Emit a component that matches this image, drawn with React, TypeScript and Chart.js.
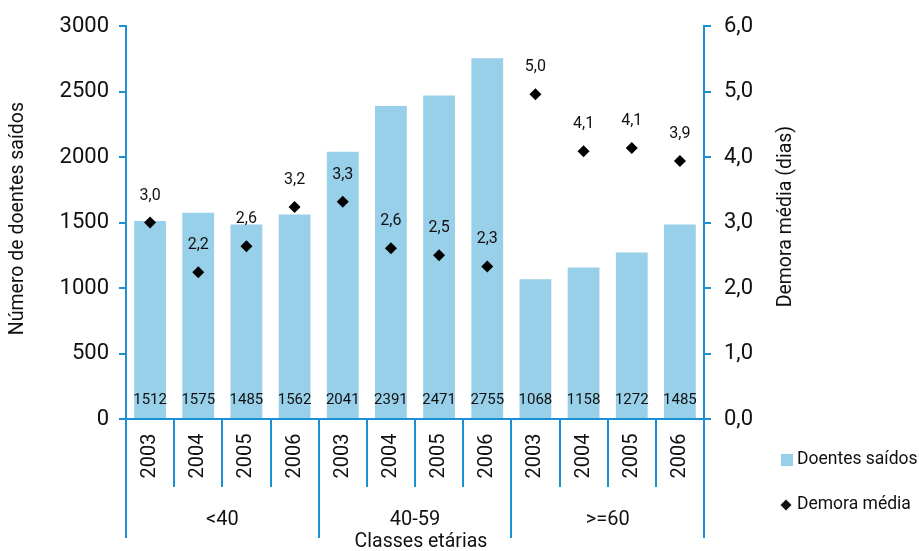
import React, { useEffect, useRef } from "react";
import { Chart, registerables } from "chart.js";

Chart.register(...registerables);

const years = ["2003", "2004", "2005", "2006", "2003", "2004", "2005", "2006", "2003", "2004", "2005", "2006"];
const groups = ["<40", "40-59", ">=60"];
const doentesSaidos = [1512, 1575, 1485, 1562, 2041, 2391, 2471, 2755, 1068, 1158, 1272, 1485];
const demoraMedia = [3.0, 2.24, 2.64, 3.24, 3.32, 2.61, 2.5, 2.33, 4.96, 4.09, 4.14, 3.94];
const leftTicks = [0, 500, 1000, 1500, 2000, 2500, 3000];
const rightTicks = [0, 1, 2, 3, 4, 5, 6];

const BLUE = "#1b90d2";
const BAR = "#98cfe9";
const TEXT = "#111111";
const FONT = "Roboto";

const overlay = {
  id: "overlay",
  afterDraw(chart: any) {
    const ctx = chart.ctx;
    const area = chart.chartArea;
    const x = chart.scales.x;
    const yR = chart.scales.y1;
    const n = years.length;
    const w = (area.right - area.left) / n;
    const bottom = area.bottom;
    ctx.save();
    // x axis line and separators
    ctx.strokeStyle = BLUE;
    ctx.lineWidth = 2;
    ctx.beginPath();
    ctx.moveTo(area.left, bottom);
    ctx.lineTo(area.right, bottom);
    for (let i = 0; i <= n; i++) {
      const px = Math.round(area.left + i * w);
      const len = i % 4 === 0 ? 119 : 68;
      ctx.moveTo(px, bottom);
      ctx.lineTo(px, bottom + len);
    }
    ctx.stroke();

    // year labels
    ctx.fillStyle = TEXT;
    ctx.font = `20px ${FONT}`;
    ctx.textAlign = "center";
    ctx.textBaseline = "middle";
    years.forEach((yr, i) => {
      const cx = x.getPixelForValue(i);
      ctx.save();
      ctx.translate(cx, bottom + 37);
      ctx.rotate(-Math.PI / 2);
      ctx.fillText(yr, 0, 0);
      ctx.restore();
    });
    // group labels
    groups.forEach((g, gi) => {
      const cx = (x.getPixelForValue(gi * 4) + x.getPixelForValue(gi * 4 + 3)) / 2;
      ctx.fillText(g, cx, bottom + 101);
    });
    ctx.font = `19.5px ${FONT}`;
    ctx.fillText("Classes etárias", (area.left + area.right) / 2 + 6, bottom + 123);

    // axis titles
    const midY = (area.top + area.bottom) / 2;
    ctx.font = `19.5px ${FONT}`;
    ctx.save();
    ctx.translate(18, midY - 4);
    ctx.rotate(-Math.PI / 2);
    ctx.fillText("Número de doentes saídos", 0, 0);
    ctx.restore();
    ctx.save();
    ctx.translate(786, midY - 6);
    ctx.rotate(-Math.PI / 2);
    ctx.fillText("Demora média (dias)", 0, 0);
    ctx.restore();

    // bar value labels
    ctx.font = `15px ${FONT}`;
    doentesSaidos.forEach((v, i) => {
      ctx.fillText(String(v), x.getPixelForValue(i), bottom - 19);
    });
    // point labels
    ctx.font = `16px ${FONT}`;
    demoraMedia.forEach((v, i) => {
      const py = yR.getPixelForValue(v);
      ctx.fillText(v.toFixed(1).replace(".", ","), x.getPixelForValue(i), py - 27);
    });

    // legend
    ctx.textAlign = "left";
    ctx.font = `17.5px ${FONT}`;
    ctx.fillStyle = BAR;
    ctx.fillRect(781, 454, 12, 12);
    ctx.fillStyle = TEXT;
    ctx.fillText("Doentes saídos", 797, 460);
    ctx.beginPath();
    ctx.moveTo(786, 499.5);
    ctx.lineTo(791.5, 505);
    ctx.lineTo(786, 510.5);
    ctx.lineTo(780.5, 505);
    ctx.closePath();
    ctx.fill();
    ctx.fillText("Demora média", 797, 505);
    ctx.restore();
  },
};

export default function App() {
  const ref = useRef<HTMLCanvasElement>(null);
  useEffect(() => {
    document.body.style.margin = "0";
    const chart = new Chart(ref.current as HTMLCanvasElement, {
      type: "bar",
      data: {
        labels: years.map((y, i) => `${groups[Math.floor(i / 4)]} ${y}`),
        datasets: [
          {
            type: "line",
            label: "Demora média",
            data: demoraMedia,
            yAxisID: "y1",
            showLine: false,
            pointStyle: "rectRot",
            pointRadius: 6,
            pointBackgroundColor: "#000",
            pointBorderColor: "#000",
            pointBorderWidth: 0,
            order: 0,
          } as any,
          {
            type: "bar",
            label: "Doentes saídos",
            data: doentesSaidos,
            yAxisID: "y",
            backgroundColor: BAR,
            borderWidth: 0,
            barPercentage: 0.66,
            categoryPercentage: 1,
            order: 1,
          },
        ],
      },
      options: {
        animation: false,
        responsive: false,
        layout: { padding: { top: 25, bottom: 132, left: 0, right: 0 } },
        plugins: { legend: { display: false }, tooltip: { enabled: false } },
        scales: {
          x: { display: false, offset: true },
          y: {
            position: "left",
            min: 0,
            max: 3000,
            afterFit: (s: any) => {
              s.width = 126;
            },
            afterBuildTicks: (s: any) => {
              s.ticks = leftTicks.map((v) => ({ value: v }));
            },
            border: { color: BLUE, width: 2 },
            grid: { drawOnChartArea: false, color: BLUE, tickLength: 7, lineWidth: 2 },
            ticks: {
              color: TEXT,
              font: { family: FONT, size: 22 },
              padding: 10,
              callback: (v: any) => String(v),
            },
          },
          y1: {
            position: "right",
            min: 0,
            max: 6,
            afterFit: (s: any) => {
              s.width = 919 - 704;
            },
            afterBuildTicks: (s: any) => {
              s.ticks = rightTicks.map((v) => ({ value: v }));
            },
            border: { color: BLUE, width: 2 },
            grid: { drawOnChartArea: false, color: BLUE, tickLength: 7, lineWidth: 2 },
            ticks: {
              color: TEXT,
              font: { family: FONT, size: 22 },
              padding: 13,
              callback: (v: any) => Number(v).toFixed(1).replace(".", ","),
            },
          },
        },
      },
      plugins: [overlay],
    });
    return () => chart.destroy();
  }, []);
  return <canvas ref={ref} width={919} height={551} style={{ display: "block" }} />;
}
